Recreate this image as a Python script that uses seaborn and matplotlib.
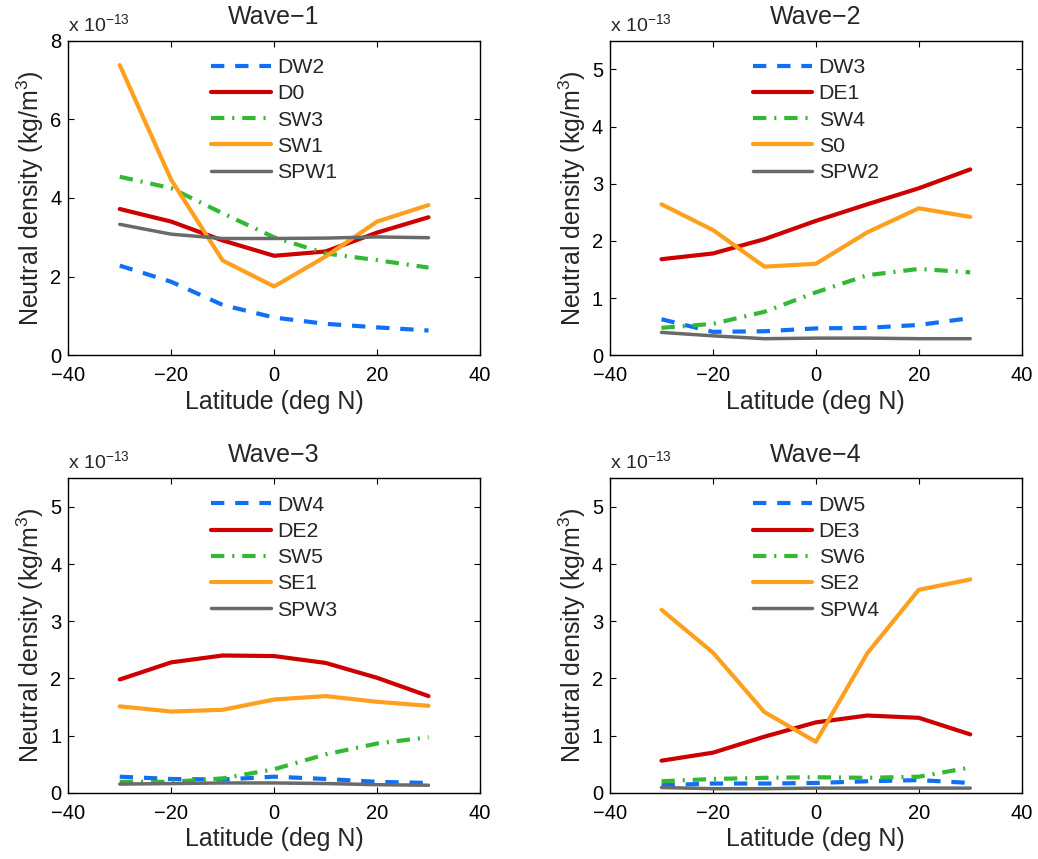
import matplotlib
matplotlib.use('Agg')
import matplotlib.pyplot as plt
import numpy as np
import pandas as pd
import seaborn as sns

# latitude samples (deg N)
lat = [-30, -20, -10, 0, 10, 20, 30]

# values in units of 1e-13 kg/m^3
# Wave-1
dw2 = [2.28, 1.87, 1.28, 0.96, 0.80, 0.71, 0.63]
d0 = [3.72, 3.40, 2.92, 2.53, 2.64, 3.12, 3.51]
sw3 = [4.54, 4.25, 3.61, 3.00, 2.59, 2.42, 2.23]
sw1 = [7.38, 4.46, 2.41, 1.75, 2.51, 3.40, 3.82]
spw1 = [3.33, 3.08, 2.97, 2.97, 2.98, 3.01, 2.99]
# Wave-2
dw3 = [0.63, 0.41, 0.42, 0.47, 0.48, 0.53, 0.65]
de1 = [1.68, 1.78, 2.03, 2.35, 2.64, 2.92, 3.25]
sw4 = [0.48, 0.55, 0.76, 1.10, 1.40, 1.51, 1.45]
s0 = [2.64, 2.19, 1.55, 1.60, 2.15, 2.57, 2.42]
spw2 = [0.40, 0.34, 0.29, 0.30, 0.30, 0.29, 0.29]
# Wave-3
dw4 = [0.28, 0.24, 0.23, 0.28, 0.24, 0.19, 0.17]
de2 = [1.98, 2.28, 2.40, 2.39, 2.27, 2.01, 1.69]
sw5 = [0.19, 0.19, 0.25, 0.41, 0.67, 0.86, 0.97]
se1 = [1.51, 1.42, 1.45, 1.63, 1.69, 1.59, 1.52]
spw3 = [0.15, 0.16, 0.17, 0.17, 0.16, 0.14, 0.13]
# Wave-4
dw5 = [0.13, 0.16, 0.16, 0.17, 0.20, 0.22, 0.17]
de3 = [0.56, 0.70, 0.98, 1.23, 1.35, 1.31, 1.02]
sw6 = [0.20, 0.24, 0.26, 0.27, 0.26, 0.28, 0.44]
se2 = [3.20, 2.45, 1.41, 0.89, 2.44, 3.55, 3.73]
spw4 = [0.09, 0.07, 0.07, 0.08, 0.08, 0.08, 0.08]

panels = [
    ('Wave\u22121', 8, [2, 4, 6, 8], [('DW2', dw2), ('D0', d0), ('SW3', sw3), ('SW1', sw1), ('SPW1', spw1)]),
    ('Wave\u22122', 5.5, [1, 2, 3, 4, 5], [('DW3', dw3), ('DE1', de1), ('SW4', sw4), ('S0', s0), ('SPW2', spw2)]),
    ('Wave\u22123', 5.5, [1, 2, 3, 4, 5], [('DW4', dw4), ('DE2', de2), ('SW5', sw5), ('SE1', se1), ('SPW3', spw3)]),
    ('Wave\u22124', 5.5, [1, 2, 3, 4, 5], [('DW5', dw5), ('DE3', de3), ('SW6', sw6), ('SE2', se2), ('SPW4', spw4)]),
]

colors = ['#0F6FF5', '#CC0000', '#33B833', '#FF9F1E', '#6A6A6A']
dashes = [(3.2, 2.6), (), (3.2, 1.9, 0.5, 1.9), (), ()]
widths = [3.0, 3.0, 3.0, 3.0, 2.5]

sns.set_theme(style='white')
plt.rcParams['font.family'] = ['Liberation Sans', 'DejaVu Sans']
plt.rcParams['mathtext.fontset'] = 'custom'
plt.rcParams['mathtext.rm'] = 'Liberation Sans'
plt.rcParams['mathtext.it'] = 'Liberation Sans'
plt.rcParams['mathtext.default'] = 'regular'
plt.rcParams['xtick.direction'] = 'in'
plt.rcParams['ytick.direction'] = 'in'

fig = plt.figure(figsize=(10.38, 8.59), dpi=100)
boxes = [
    [0.0658, 0.5864, 0.3966, 0.3662],
    [0.5877, 0.5864, 0.3966, 0.3662],
    [0.0658, 0.0772, 0.3966, 0.3660],
    [0.5877, 0.0772, 0.3966, 0.3660],
]

for box, (title, ymax, yt, series) in zip(boxes, panels):
    ax = fig.add_axes(box)
    for i, (name, vals) in enumerate(series):
        df = pd.DataFrame({'lat': lat, 'rho': vals})
        sns.lineplot(data=df, x='lat', y='rho', ax=ax, color=colors[i],
                     lw=widths[i], label=name)
        ln = ax.get_lines()[-1]
        if dashes[i]:
            ln.set_dashes(dashes[i])
    ax.set_xlim(-40, 40)
    ax.set_ylim(0, ymax)
    ax.set_xticks([-40, -20, 0, 20, 40])
    ax.set_xticklabels(['\u221240', '\u221220', '0', '20', '40'])
    ax.set_yticks([0] + yt)
    ax.tick_params(axis='both', labelsize=14.5, length=4, width=0.8,
                   top=True, right=True, bottom=True, left=True, colors='black')
    ax.tick_params(axis='x', pad=8)
    ax.tick_params(axis='y', pad=5)
    for s in ax.spines.values():
        s.set_color('black')
        s.set_linewidth(1.0)
    ax.set_xlabel('Latitude (deg N)', fontsize=18, labelpad=3)
    ax.set_ylabel('Neutral density (kg/m$^3$)', fontsize=18, labelpad=3)
    ax.set_title(title, fontsize=18, pad=12)
    ax.text(0.0, 1.032, 'x 10$^{\u221213}$', transform=ax.transAxes,
            fontsize=14, ha='left', va='baseline')
    leg = ax.legend(loc='upper center', bbox_to_anchor=(0.5, 0.985), frameon=False,
                    fontsize=15.3, handlelength=2.8, handletextpad=0.3,
                    labelspacing=0.34, borderaxespad=0.2)

fig.savefig('out.png', dpi=100)
